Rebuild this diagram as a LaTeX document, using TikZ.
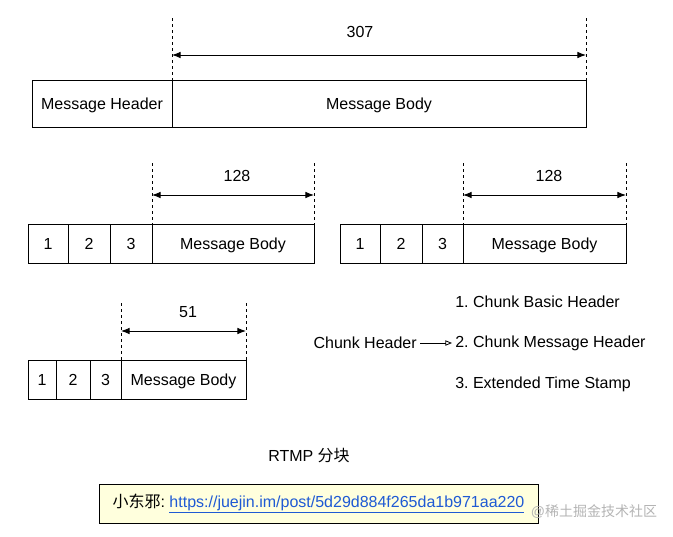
\documentclass[tikz,border=0pt]{standalone}
\usepackage{fontspec}
\setmainfont{Liberation Sans}
\newfontfamily\cjk{Noto Sans CJK SC}
\usetikzlibrary{arrows.meta,positioning}
\definecolor{linkblue}{HTML}{1F5AD4}
\definecolor{notefill}{HTML}{FFFFDD}
\definecolor{markgray}{HTML}{B4B4B4}
\frenchspacing

\tikzset{
  cell/.style={draw,line width=0.75pt,rectangle,inner sep=0pt,outer sep=0pt,minimum height=29.25pt,text height=8.6pt,text depth=0pt,font=\fontsize{12}{14}\selectfont},
  txt/.style={inner sep=2.25pt,font=\fontsize{12}{14}\selectfont},
  guide/.style={line width=0.75pt,dash pattern=on 2.25pt off 2.25pt},
  span/.style={line width=0.75pt,{Latex[length=6.5pt,width=5pt]}-{Latex[length=6.5pt,width=5pt]}},
  pointer/.style={line width=0.6pt,-{Triangle[open,length=5pt,width=4pt]}}
}

\begin{document}
\begin{tikzpicture}[x=0.75pt,y=-0.75pt]
\useasboundingbox (0,0) rectangle (673,536);
\node[cell,minimum width=105pt,minimum height=35.25pt] (mh) at (102,103.5) {Message Header};
\node[cell,minimum width=310.5pt,minimum height=35.25pt,anchor=west] (mb) at (mh.east) {Message Body};
\coordinate (t1) at (172,18);
\coordinate (t2) at (586,18);
\coordinate (s1) at (172,55);
\coordinate (s2) at (586,55);
\draw[guide] (t1) -- (mb.north west);
\draw[guide] (t2) -- (mb.north east);
\draw[span] (s1) -- (s2);
\node[txt] (n307) at (360,32) {307};

\node[cell,minimum width=30pt] (a1) at (48,243.5) {1};
\node[cell,minimum width=31.5pt,anchor=west] (a2) at (a1.east) {2};
\node[cell,minimum width=31.5pt,anchor=west] (a3) at (a2.east) {3};
\node[cell,minimum width=121.5pt,anchor=west] (ab) at (a3.east) {Message Body};
\coordinate (u1) at (152,163);
\coordinate (u2) at (314,163);
\coordinate (v1) at (152,195);
\coordinate (v2) at (314,195);
\draw[guide] (u1) -- (ab.north west);
\draw[guide] (u2) -- (ab.north east);
\draw[span] (v1) -- (v2);
\node[txt] (n128a) at (237,176) {128};

\node[cell,minimum width=30pt] (b1) at (360,243.5) {1};
\node[cell,minimum width=31.5pt,anchor=west] (b2) at (b1.east) {2};
\node[cell,minimum width=30.75pt,anchor=west] (b3) at (b2.east) {3};
\node[cell,minimum width=122.25pt,anchor=west] (bb) at (b3.east) {Message Body};
\coordinate (w1) at (463,163);
\coordinate (w2) at (626,163);
\coordinate (x1) at (463,195);
\coordinate (x2) at (626,195);
\draw[guide] (w1) -- (bb.north west);
\draw[guide] (w2) -- (bb.north east);
\draw[span] (x1) -- (x2);
\node[txt] (n128b) at (549,176) {128};

\node[cell,minimum width=21pt] (c1) at (42,379.5) {1};
\node[cell,minimum width=25.5pt,anchor=west] (c2) at (c1.east) {2};
\node[cell,minimum width=23.25pt,anchor=west] (c3) at (c2.east) {3};
\node[cell,minimum width=93.75pt,anchor=west] (cb) at (c3.east) {Message Body};
\coordinate (y1) at (121,303);
\coordinate (y2) at (246,303);
\coordinate (z1) at (121,331);
\coordinate (z2) at (246,331);
\draw[guide] (y1) -- (cb.north west);
\draw[guide] (y2) -- (cb.north east);
\draw[span] (z1) -- (z2);
\node[txt] (n51) at (188,312) {51};

\node[txt,anchor=west] (h1) at (452,302) {1. Chunk Basic Header};
\node[txt,anchor=west] (h2) at (452,343) {2. Chunk Message Header};
\node[txt,anchor=west] (h3) at (452,384) {3. Extended Time Stamp};
\node[txt,anchor=east] (ch) at (420,343) {Chunk Header};
\draw[pointer] (ch) -- (h2);

\node[txt] (title) at (309,456) {RTMP {\cjk 分块}};
\node[draw,line width=0.75pt,fill=notefill,minimum width=329.25pt,minimum height=29.25pt,inner sep=0pt,font=\fontsize{12}{14}\selectfont] (note) at (318.5,503.5)
  {{\cjk 小东邪}: \textcolor{linkblue}{\underline{https://juejin.im/post/5d29d884f265da1b971aa220}}};
\node[inner sep=0pt,text=markgray,font=\fontsize{10.5}{12}\selectfont] (mark) at (594,512) {@{\cjk 稀土掘金技术社区}};
\end{tikzpicture}
\end{document}
